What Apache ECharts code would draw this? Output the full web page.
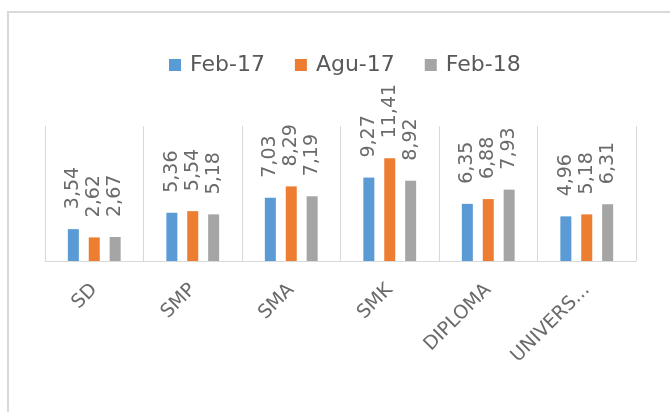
<!DOCTYPE html>
<html>
<head>
<meta charset="utf-8">
<script src="https://cdn.jsdelivr.net/npm/echarts@6/dist/echarts.min.js"></script>
<style>
html,body{margin:0;padding:0;background:#fff;}
#c{width:670px;height:412px;}
</style>
</head>
<body>
<div id="c"></div>
<script>
const categories = ['SD', 'SMP', 'SMA', 'SMK', 'DIPLOMA', 'UNIVERS...'];
const seriesNames = ['Feb-17', 'Agu-17', 'Feb-18'];
const feb17 = [3.54, 5.36, 7.03, 9.27, 6.35, 4.96];
const agu17 = [2.62, 5.54, 8.29, 11.41, 6.88, 5.18];
const feb18 = [2.67, 5.18, 7.19, 8.92, 7.93, 6.31];
const colors = ['#5B9BD5', '#ED7D31', '#A5A5A5'];

const FONT = 'DejaVu Sans';
const TEXT = '#595959';

function makeSeries(name, data, color) {
  return {
    name: name,
    type: 'bar',
    data: data,
    barWidth: 11,
    barGap: '90%',
    itemStyle: { color: color },
    label: {
      show: true,
      position: 'top',
      distance: 20,
      rotate: 90,
      align: 'left',
      verticalAlign: 'middle',
      fontFamily: FONT,
      fontSize: 19,
      color: '#6a6a6a',
      formatter: p => p.value.toFixed(2).replace('.', ',')
    }
  };
}

const chart = echarts.init(document.getElementById('c'));
chart.setOption({
  animation: false,
  backgroundColor: '#fff',
  graphic: [{
    type: 'rect',
    z: -10,
    shape: { x: 8, y: 12, width: 720, height: 470 },
    style: { fill: 'none', stroke: '#D9D9D9', lineWidth: 2 }
  }],
  legend: {
    data: seriesNames,
    left: 164,
    top: 49,
    icon: 'rect',
    itemWidth: 12,
    itemHeight: 12,
    itemGap: 30,
    textStyle: { fontFamily: FONT, fontSize: 22, color: TEXT, padding: [0, 0, 0, 4] }
  },
  grid: { left: 45, right: 34, top: 126, bottom: 151, containLabel: false },
  xAxis: {
    type: 'category',
    data: categories,
    axisLine: { lineStyle: { color: '#D9D9D9', width: 1 } },
    axisTick: { show: false },
    splitLine: { show: true, lineStyle: { color: '#D9D9D9', width: 1 } },
    axisLabel: {
      rotate: 45,
      margin: 26,
      interval: 0,
      fontFamily: FONT,
      fontSize: 19,
      color: '#6a6a6a'
    }
  },
  yAxis: {
    type: 'value',
    min: 0,
    max: 15,
    show: false,
    splitLine: { show: false }
  },
  series: [
    makeSeries(seriesNames[0], feb17, colors[0]),
    makeSeries(seriesNames[1], agu17, colors[1]),
    makeSeries(seriesNames[2], feb18, colors[2])
  ]
});
</script>
</body>
</html>
